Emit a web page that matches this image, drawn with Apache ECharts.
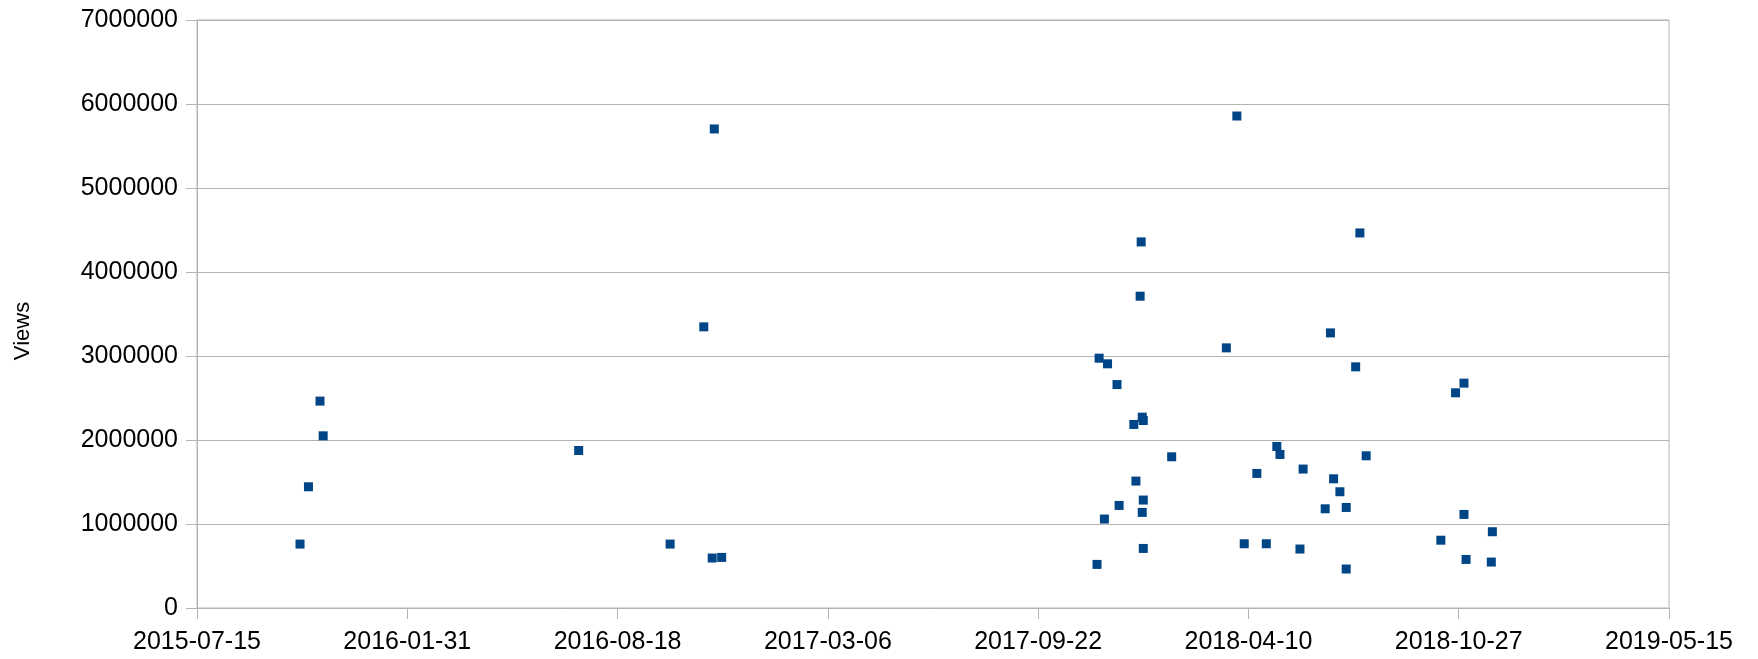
<!DOCTYPE html>
<html>
<head>
<meta charset="utf-8">
<script src="https://cdn.jsdelivr.net/npm/echarts@6/dist/echarts.min.js"></script>
<style>
html,body{margin:0;padding:0;background:#fff;}
#chart{width:1758px;height:659px;}
</style>
</head>
<body>
<div id="chart"></div>
<script>
const dates = [
  '2015-10-21','2015-10-29','2015-11-09','2015-11-12',
  '2016-07-12','2016-10-07','2016-11-08','2016-11-16','2016-11-18','2016-11-25',
  '2017-11-17','2017-11-19','2017-11-24','2017-11-27','2017-12-06','2017-12-08','2017-12-22','2017-12-24','2017-12-28','2017-12-29','2017-12-30','2017-12-30','2017-12-31','2017-12-31','2017-12-31',
  '2018-01-27','2018-03-20','2018-03-30','2018-04-06','2018-04-18','2018-04-27','2018-05-07','2018-05-10','2018-05-29','2018-06-01','2018-06-22','2018-06-27','2018-06-30','2018-07-06','2018-07-12','2018-07-12','2018-07-21','2018-07-25','2018-07-31',
  '2018-10-10','2018-10-24','2018-11-01','2018-11-01','2018-11-03','2018-11-27','2018-11-28'
];
const views = [
  761000,1443000,2463000,2050000,
  1875000,761000,3347000,595000,5703000,602000,
  519000,2974000,1059000,2907000,2660000,1221000,2185000,1511000,3712000,4358000,2272000,1138000,2232000,1285000,709000,
  1800000,3097000,5857000,765000,1602000,765000,1923000,1828000,702000,1654000,1181000,3275000,1538000,1384000,1197000,464000,2871000,4465000,1812000,
  807000,2562000,2677000,1114000,578000,547000,908000
];
const xTickLabels = ['2015-07-15','2016-01-31','2016-08-18','2017-03-06','2017-09-22','2018-04-10','2018-10-27','2019-05-15'];
const yAxisName = 'Views';

const DAY = 86400000;
function toUTC(s){ const p = s.split('-').map(Number); return Date.UTC(p[0], p[1]-1, p[2]); }
const base = toUTC(xTickLabels[0]);
const stepDays = Math.round((toUTC(xTickLabels[1]) - base) / DAY);
const maxDays = Math.round((toUTC(xTickLabels[xTickLabels.length-1]) - base) / DAY);
const points = dates.map((d, i) => [Math.round((toUTC(d) - base) / DAY), views[i]]);

const font = 'Liberation Sans, Arial, sans-serif';
const chart = echarts.init(document.getElementById('chart'), null, {renderer: 'canvas'});
chart.setOption({
  animation: false,
  backgroundColor: '#ffffff',
  grid: {left: 197, right: 89, top: 20, bottom: 51, show: true, borderColor: '#b3b3b3', borderWidth: 1, backgroundColor: 'transparent'},
  xAxis: {
    type: 'value', min: 0, max: maxDays, interval: stepDays,
    axisLine: {show: true, lineStyle: {color: '#b3b3b3', width: 1}},
    axisTick: {show: true, length: 11, lineStyle: {color: '#b3b3b3'}},
    splitLine: {show: false},
    axisLabel: {
      color: '#000', fontFamily: font, fontSize: 25, margin: 22,
      formatter: v => xTickLabels[Math.round(v / stepDays)] || ''
    }
  },
  yAxis: {
    type: 'value', min: 0, max: 7000000, interval: 1000000,
    name: yAxisName, nameLocation: 'middle', nameGap: 163, nameRotate: 90,
    nameTextStyle: {color: '#000', fontFamily: font, fontSize: 22, padding: [0, 34, 0, 0]},
    axisLine: {show: true, lineStyle: {color: '#b3b3b3', width: 1}},
    axisTick: {show: true, length: 11, lineStyle: {color: '#b3b3b3'}},
    splitLine: {show: true, lineStyle: {color: '#b3b3b3', width: 1}},
    axisLabel: {color: '#000', fontFamily: font, fontSize: 25, margin: 19, formatter: v => String(v)}
  },
  series: [{
    type: 'scatter',
    symbol: 'rect',
    symbolSize: 9,
    itemStyle: {color: '#004586', opacity: 1},
    data: points
  }]
});
</script>
</body>
</html>
